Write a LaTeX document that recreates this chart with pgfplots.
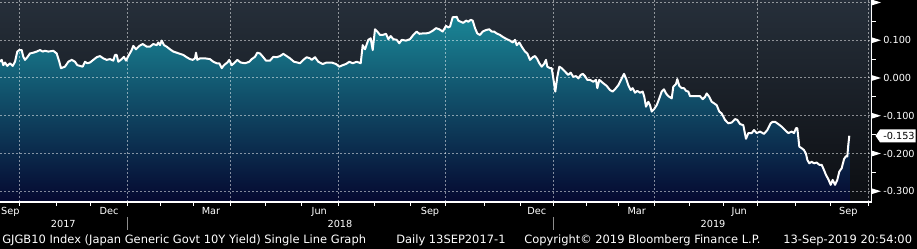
\documentclass[border=0pt]{standalone}
\usepackage{pgfplots}
\pgfplotsset{compat=1.18}
\usepackage{pgfplotstable}
\usepackage{fontspec}
\setmainfont{DejaVu Sans}
\definecolor{bgtop}{RGB}{38,47,58}
\definecolor{bgbot}{RGB}{12,14,18}
\definecolor{filltop}{RGB}{26,134,150}
\definecolor{fillmid}{RGB}{12,78,108}
\definecolor{fillbot}{RGB}{5,8,48}
\definecolor{sepgray}{RGB}{140,140,140}

% x = position along the trading-day axis (pixel units), y = yield in %
\pgfplotstableread{
x y
0 0.043
1.7 0.048
3.3 0.034
5 0.041
7.3 0.032
10 0.039
12.7 0.032
15 0.043
17.3 0.070
19.3 0.074
21.7 0.074
23.3 0.056
25 0.048
27.3 0.055
30 0.065
33.3 0.067
36.7 0.070
40 0.074
42.7 0.070
45 0.072
48.3 0.070
53.3 0.072
56.7 0.065
59.3 0.043
61 0.026
65 0.030
68.3 0.043
71.7 0.048
75 0.043
77.3 0.034
80 0.032
82.7 0.030
85 0.043
87.3 0.039
90 0.041
93.3 0.048
96.7 0.055
100 0.058
103.3 0.052
106.7 0.048
110 0.050
113.3 0.046
115 0.061
116.7 0.061
118.3 0.043
121.7 0.050
124 0.056
126 0.046
128.3 0.058
131.7 0.074
133.3 0.085
136 0.076
139.3 0.085
142.7 0.090
146.7 0.083
150 0.083
153.3 0.090
156.7 0.087
158.3 0.094
160 0.087
161.7 0.099
164 0.087
166.7 0.083
170 0.076
173.3 0.070
176.7 0.067
180 0.064
183.3 0.061
186.7 0.055
190 0.050
192.7 0.048
195 0.052
196 0.067
197.3 0.048
200 0.052
205 0.052
210 0.050
213.3 0.043
216.7 0.039
219.3 0.039
221.7 0.026
224 0.034
227.3 0.041
229.3 0.048
231.7 0.034
234 0.039
237.3 0.048
240.7 0.041
245 0.039
249.3 0.043
251.7 0.050
255 0.056
257.3 0.067
260 0.065
263.3 0.055
266 0.046
270 0.046
273.3 0.056
276.7 0.055
280 0.058
283.3 0.064
286.7 0.058
290 0.052
294 0.043
297.3 0.041
300 0.039
303.3 0.048
306.7 0.055
310 0.052
311.7 0.048
315 0.055
318.3 0.043
322.7 0.037
326.7 0.041
331.7 0.041
336 0.037
339.3 0.030
342.7 0.034
346 0.037
349.3 0.043
352.7 0.039
356.7 0.043
360.7 0.039
362.7 0.087
365 0.076
368.3 0.101
370.7 0.105
372.7 0.074
375 0.129
377.3 0.123
380 0.114
382.7 0.114
386 0.117
388.3 0.103
390.7 0.111
393.3 0.103
396.7 0.101
399.3 0.092
401.7 0.101
406 0.099
410 0.103
413.3 0.114
416.7 0.123
419.3 0.117
422.7 0.118
426 0.118
429.3 0.120
432.7 0.125
436 0.132
439.3 0.129
442.7 0.123
446 0.138
448.3 0.134
450 0.136
452.7 0.161
455 0.161
456.7 0.162
458.3 0.152
460.7 0.149
463.3 0.146
466 0.152
468.3 0.149
470.7 0.154
472.7 0.152
475 0.132
477.3 0.118
480 0.114
482.7 0.123
486 0.127
489.3 0.129
491.7 0.123
494 0.123
496.7 0.118
500 0.114
503.3 0.108
506.7 0.103
510 0.099
512.7 0.094
515 0.101
516.7 0.087
519.3 0.094
521.7 0.083
525 0.070
527.3 0.065
530 0.048
532.7 0.055
535 0.058
537.3 0.050
539.3 0.039
541.7 0.030
544 0.037
546 0.048
547.3 0.030
550 0.026
551.7 0.026
553.3 -0.001
555.3 -0.036
557.3 0.003
559.3 0.030
561.7 0.026
565 0.017
568.3 0.008
570.7 0.014
573.3 0.003
576 0.005
578.3 -0.001
580.7 0.008
582.7 0.011
585 0.005
587.3 -0.005
590 -0.005
593.3 -0.010
596 -0.005
597.3 -0.027
599.3 -0.005
603.3 -0.014
606.7 -0.021
610 -0.032
612.7 -0.036
615 -0.030
618.3 -0.019
621.7 -0.001
624 0.011
626 -0.001
628.3 -0.019
630.7 -0.032
632.7 -0.027
635 -0.039
637.3 -0.034
640 -0.039
642.7 -0.036
644.3 -0.050
646 -0.076
648.3 -0.063
650 -0.072
651.7 -0.089
654 -0.083
656.7 -0.072
659.3 -0.054
661.7 -0.036
664 -0.030
666 -0.041
668.3 -0.048
671.7 -0.054
673.3 -0.023
676 -0.016
677.3 -0.003
679.3 -0.021
681.7 -0.027
684 -0.027
686 -0.034
688.3 -0.036
690 -0.048
693.3 -0.048
697.3 -0.048
700 -0.048
702.7 -0.056
705 -0.050
706.7 -0.041
709.3 -0.050
711.7 -0.063
714 -0.067
716.7 -0.072
719.3 -0.089
721.7 -0.094
725 -0.111
728.3 -0.120
731.7 -0.118
735 -0.109
737.3 -0.111
740 -0.122
743.3 -0.125
746 -0.161
748.3 -0.146
751.7 -0.146
754 -0.138
756.7 -0.146
760 -0.142
764 -0.148
767.3 -0.138
770.7 -0.120
772.7 -0.116
775 -0.116
778.3 -0.122
781.7 -0.129
785 -0.138
788.3 -0.146
791.7 -0.142
794 -0.146
796 -0.133
797.3 -0.133
799.3 -0.182
801.7 -0.186
804 -0.191
806 -0.201
807.3 -0.217
809.3 -0.226
811.7 -0.222
814 -0.226
816.7 -0.224
819.3 -0.230
821.7 -0.230
824 -0.244
826 -0.257
828.3 -0.268
830.7 -0.283
832.7 -0.270
835 -0.283
837.3 -0.270
839.3 -0.248
841.7 -0.239
844 -0.215
846 -0.207
847.3 -0.208
848.3 -0.177
849.3 -0.153
}\yields

\begin{document}
\begin{tikzpicture}
\useasboundingbox (0pt,0pt) rectangle (687.75pt,186.75pt);
\fill[black] (0pt,0pt) rectangle (687.75pt,186.75pt);
\shade[top color=bgtop,bottom color=bgbot] (0pt,35.25pt) rectangle (654pt,186.75pt);
\begin{axis}[
  at={(0pt,35.25pt)}, anchor=south west,
  scale only axis, width=654pt, height=151.5pt,
  xmin=0, xmax=872, ymin=-0.3285, ymax=0.2066,
  clip=false,
  axis line style={draw=none},
  tick style={draw=none},
  major tick length=0pt,
  xtick={10.3,109,211,319.3,430,536.7,636.7,739.3,848.3},
  xticklabels={Sep,Dec,Mar,Jun,Sep,Dec,Mar,Jun,Sep},
  xticklabel style={font=\fontsize{7.3pt}{8pt}\selectfont, text=white, anchor=base, inner sep=0pt, yshift=-9.75pt},
  ytick={-0.3,-0.2,-0.1,0,0.1},
  yticklabel pos=right,
  yticklabel style={font=\fontsize{7.3pt}{8pt}\selectfont, text=white, anchor=west, inner sep=0pt, xshift=8.25pt,
    /pgf/number format/.cd, fixed, fixed zerofill, precision=3, assume math mode=true},
]
\addplot[draw=none, top color=filltop, middle color=fillmid, bottom color=fillbot]
  table[x=x,y=y] {\yields} -- (axis cs:849.3,-0.3285) -- (axis cs:0,-0.3285) -- cycle;
\pgfplotsinvokeforeach{19.3,127.3,230,338.3,445.7,553.3,654.3,757.3,868.7}{
  \draw[white, opacity=0.5, line width=0.75pt, dash pattern=on 1.5pt off 1.5pt] (axis cs:#1,-0.3285) -- (axis cs:#1,0.2066);
}
\pgfplotsinvokeforeach{-0.3,-0.2,-0.1,0,0.1,0.2}{
  \draw[white, opacity=0.5, line width=0.75pt, dash pattern=on 1.5pt off 1.5pt] (axis cs:0,#1) -- (axis cs:872,#1);
}
\addplot[white, line width=1.5pt, line join=round] table[x=x,y=y] {\yields};
\end{axis}
% decorations in pixel units, y measured down from the top
\begin{scope}[x=0.75pt, y=-0.75pt, shift={(0pt,186.75pt)}]
  \draw[white, line width=0.9pt] (0,202) -- (872,202);
  \draw[white, line width=0.9pt] (871.6,0) -- (871.6,202.4);
  \foreach \t in {19.3,56.7,90.7,127.3,160.7,193.3,230,265,301.7,338.3,374,410,445.7,484.3,520.7,553.3,586.7,618.3,654.3,689,723.3,757.3,795,830,868.7}
    \draw[white, line width=0.75pt] (\t,202) -- (\t,206.5);
  \foreach \yy in {2.5,40.25,78,115.75,153.5,191.25}
    \fill[white] (872,\yy-2.8) -- (881,\yy) -- (872,\yy+2.8) -- cycle;
  \foreach \yy in {21.4,59.1,96.9,134.6,172.4}
    \draw[white, line width=0.75pt] (872,\yy) -- (876,\yy);
  \draw[sepgray, line width=0.75pt] (127.3,217) -- (127.3,230);
  \draw[sepgray, line width=0.75pt] (553.3,217) -- (553.3,230);
  \node[text=white, inner sep=0pt, font=\fontsize{7.3pt}{8pt}\selectfont] at (63.3,224) {2017};
  \node[text=white, inner sep=0pt, font=\fontsize{7.3pt}{8pt}\selectfont] at (340,224) {2018};
  \node[text=white, inner sep=0pt, font=\fontsize{7.3pt}{8pt}\selectfont] at (713,224) {2019};
  \fill[white] (875.5,135.8) -- (880,129.5) -- (915.5,129.5) -- (915.5,142.3) -- (880,142.3) -- cycle;
  \node[text=black, anchor=west, inner sep=0pt, font=\fontsize{7.3pt}{8pt}\selectfont] at (883,135.8) {-0.153};
  \begin{scope}[every node/.style={text=white, anchor=base west, inner sep=0pt, font=\fontsize{8.6pt}{10pt}\selectfont}]
    \node at (2,244) {GJGB10 Index (Japan Generic Govt 10Y Yield) Single Line Graph};
    \node at (396,244) {Daily 13SEP2017-1};
    \node at (524,244) {Copyright\textcopyright{} 2019 Bloomberg Finance L.P.};
    \node at (783,244) {13-Sep-2019 20:54:00};
  \end{scope}
\end{scope}
\end{tikzpicture}
\end{document}
